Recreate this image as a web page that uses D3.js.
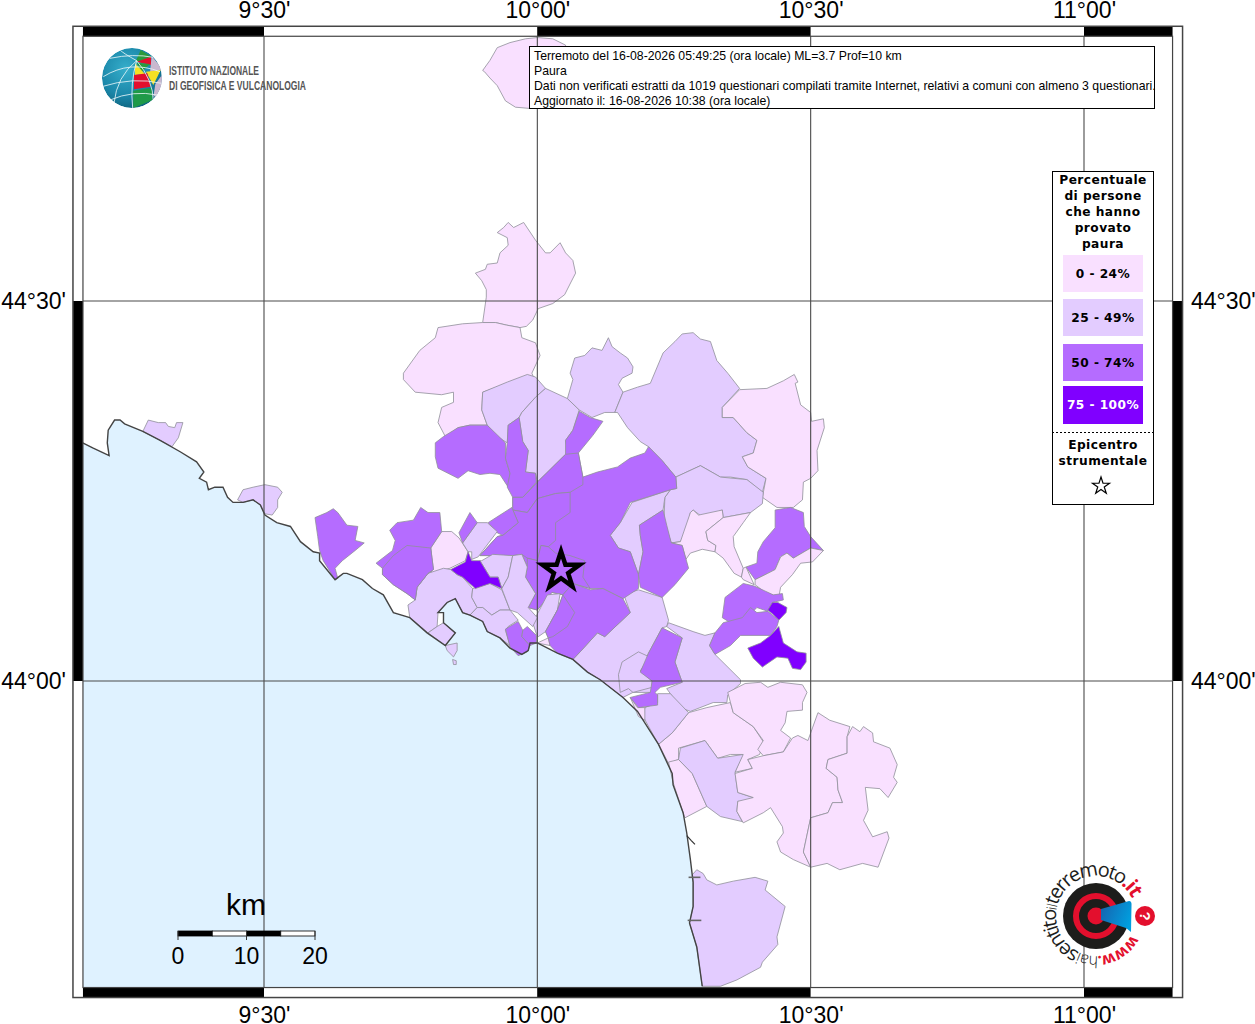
<!DOCTYPE html>
<html><head><meta charset="utf-8">
<script src="https://d3js.org/d3.v7.min.js"></script>
<style>html,body{margin:0;padding:0;background:#fff}svg{display:block}</style>
</head><body><svg id="map" width="1255" height="1024"></svg>
<script>
// Geographic values are arc-minutes east of 9°00'E and north of 44°00'N.
const lonTicks=[30,60,90,120];
const latTicks=[0,30];
const lonLabels=["9°30'","10°00'","10°30'","11°00'"];
const latLabels=["44°00'","44°30'"];
const frameLon=[10.13,129.72];
const frameLat=[-24.2,50.9];
const epicentre=[62.6,8.7];
const classLabels=["0 - 24%","25 - 49%","50 - 74%","75 - 100%"];
const classColors=["#f9e0ff","#e3ccff","#b56cff","#8000ff"];
const legendTitle=["Percentuale","di persone","che hanno","provato","paura"];
const epicentreTitle=["Epicentro","strumentale"];
const infoLines=["Terremoto del 16-08-2026 05:49:25 (ora locale) ML=3.7 Prof=10 km","Paura","Dati non verificati estratti da 1019 questionari compilati tramite Internet, relativi a comuni con almeno 3 questionari.","Aggiornato il: 16-08-2026 10:38 (ora locale)"];
const scaleKm=[0,5,10,15,20];
const coast=[10.1,18.8,11.2,18.4,13.0,17.8,12.8,18.8,12.9,19.8,13.6,20.6,14.2,20.6,14.7,20.3,16.7,19.7,18.6,19.0,20.8,18.1,22.6,17.3,23.4,16.5,22.9,16.0,23.7,15.7,23.9,15.1,24.6,15.3,25.5,15.3,26.0,14.5,26.6,14.1,27.7,14.1,28.8,14.3,29.6,13.9,30.1,13.1,31.4,12.5,32.9,12.2,34.0,11.0,35.4,10.2,36.1,10.1,36.1,9.5,37.8,8.0,38.7,8.5,39.1,8.5,40.8,8.0,41.9,7.3,43.1,6.8,44.2,5.4,46.0,5.0,47.9,3.8,49.9,2.8,51.0,3.8,49.7,4.6,49.7,5.4,49.1,5.4,50.1,6.2,51.0,6.5,51.8,5.4,52.6,5.2,54.0,4.7,54.5,3.9,55.9,3.4,57.0,2.6,58.3,2.1,59.0,2.4,59.2,3.0,60.0,3.0,62.2,2.2,63.9,1.7,65.5,0.7,66.9,0.1,69.4,-1.3,71.0,-2.4,73.3,-5.0,74.8,-7.3,74.9,-8.2,76.0,-10.4,76.4,-12.0,76.8,-14.1,77.1,-15.9,77.1,-17.8,76.7,-19.1,77.5,-21.0,78.1,-24.1];
const communeClasses=[0,0,1,1,1,1,0,1,1,1,0,0,1,0,0,0,1,1,1,1,1,0,1,2,2,2,2,2,2,2,2,0,1,2,0,0,2,3,2,3,2,2,2,0,0,0,0,1,1,1,1,1,1,1,1,2,2,1,2,3,2,2,2];
const communeRings=[
[56.8,36.2,57.4,35.8,58.5,36.2,59.8,34.8,60.9,33.8,61.4,33.8,62.5,34.6,63.1,33.8,63.9,33.2,64.2,32.2,63.7,31.5,63.0,30.5,61.7,29.8,60.1,29.4,59.5,28.5,58.8,28.0,58.1,27.9,56.6,28.1,55.4,28.3,54.0,28.3,54.4,30.3,54.4,30.9,53.9,31.6,53.2,32.2,54.3,32.5,54.5,32.9,55.6,33.0,55.9,33.8,56.8,34.4,56.7,35.0,55.6,35.4,56.3,35.8],
[49.1,27.9,51.8,28.2,54.0,28.3,55.4,28.3,56.6,28.1,58.1,27.9,58.3,27.1,59.8,26.7,60.3,25.7,59.4,24.3,59.8,23.6,56.7,23.5,54.0,22.8,53.9,21.4,54.5,20.2,52.6,20.2,51.3,20.0,49.9,19.3,49.1,20.4,49.5,21.6,50.8,22.0,50.8,22.8,49.5,22.6,46.6,22.8,45.3,23.8,45.3,24.3,47.1,26.1,48.8,27.1],
[54.0,22.8,56.7,23.6,58.9,24.2,59.8,24.0,60.9,23.1,59.8,22.4,58.3,21.2,58.0,20.8,56.8,20.2,56.7,18.8,55.6,19.3,54.5,20.2,53.9,21.4],
[59.8,22.4,60.9,23.1,63.3,22.3,64.6,21.4,63.9,19.8,63.1,19.0,63.4,18.0,60.0,15.7,59.8,16.4,58.7,16.5,59.0,18.2,58.4,18.9,58.0,20.8,58.3,21.2],
[63.3,22.3,63.9,23.8,63.6,24.3,64.1,25.5,65.2,25.7,66.0,26.3,67.1,26.1,67.8,27.1,68.2,26.4,69.1,25.9,69.9,25.5,70.5,24.8,70.4,24.3,69.3,23.9,68.9,23.4,69.4,22.8,68.5,21.2,67.4,21.2,66.0,20.8,64.6,21.4],
[68.5,21.2,69.4,22.8,71.0,23.2,72.4,23.5,73.8,25.9,75.1,26.8,75.9,27.4,77.1,27.5,77.9,27.0,79.0,26.8,79.7,25.3,80.9,24.3,82.2,23.1,80.3,21.6,80.3,20.8,81.5,20.8,83.0,19.6,84.1,19.0,83.7,18.0,82.5,17.7,83.1,16.9,85.1,16.0,84.7,14.9,83.0,15.9,81.2,16.1,80.1,16.1,77.9,17.0,75.2,16.1,73.7,17.4,72.2,18.5,71.3,18.9,69.9,20.0,68.8,21.2],
[82.2,23.0,85.2,23.1,87.0,23.7,88.2,24.2,88.6,23.6,88.3,23.5,88.9,21.8,90.0,21.2,90.1,20.5,91.4,20.7,91.5,20.0,90.7,18.2,90.8,16.6,90.0,16.0,89.2,15.7,89.1,14.3,88.1,13.7,86.3,13.7,84.7,14.5,85.1,16.0,83.1,16.9,82.5,17.7,83.7,18.0,84.1,19.0,83.0,19.6,81.5,20.8,80.3,20.8,80.3,21.6],
[75.2,16.1,77.9,17.0,80.1,16.1,83.0,15.9,84.8,14.9,84.7,14.0,83.4,13.3,80.4,12.9,80.3,13.5,78.2,12.9,77.1,13.5,76.8,13.3,76.4,11.9,75.7,11.0,74.7,10.9,73.9,12.7,74.0,14.5,74.6,15.1,75.3,15.2],
[74.6,15.1,70.4,14.1,69.1,12.5,68.0,11.5,68.9,10.5,70.2,10.2,71.1,8.4,71.6,10.2,71.3,11.5,71.2,12.3,73.8,13.5,74.0,14.5],
[63.9,1.7,64.7,2.3,66.6,3.8,67.4,3.5,70.2,5.4,69.5,6.8,71.1,7.2,73.7,6.6,74.4,4.8,74.2,4.3,73.7,4.2,72.2,2.2,71.3,0.7,72.6,0.0,72.6,-0.9,70.5,-0.9,69.4,-1.3,66.9,0.1,65.5,0.7],
[77.1,13.5,77.7,13.1,80.3,13.5,80.4,12.9,78.5,11.8,78.7,11.1,79.6,10.7,79.5,10.2,78.1,10.4,76.8,10.1,76.3,9.6,75.9,10.7,74.7,10.9,75.7,11.0,76.8,13.3],
[80.4,12.9,83.4,13.3,82.6,12.5,81.5,11.4,81.6,10.6,82.6,8.9,82.4,8.2,81.6,8.5,80.4,9.7,79.5,10.2,79.6,10.7,78.7,11.1,78.5,11.8],
[74.4,4.6,77.1,3.9,78.4,3.6,79.5,3.8,78.9,2.8,79.5,2.1,82.3,0.1,82.3,-0.2,80.9,-1.1,80.8,-1.7,79.3,-1.7,76.8,-2.4,75.7,-2.1,74.2,-0.6,75.9,-0.1,75.1,1.5,75.9,3.4,74.2,4.3],
[73.3,-5.0,74.8,-4.1,76.6,-2.5,78.6,-2.1,81.2,-1.7,81.5,-2.5,83.7,-3.6,84.8,-4.8,84.4,-5.8,83.1,-6.2,83.6,-6.9,81.7,-7.2,82.5,-5.8,81.2,-5.8,79.8,-6.1,78.4,-4.7,75.5,-5.3,75.5,-6.2,74.4,-6.5],
[74.4,-6.4,75.5,-6.2,77.0,-7.3,78.6,-9.9,76.2,-10.8,75.9,-10.2,74.9,-8.0],
[80.9,-0.9,82.8,-0.2,84.5,-0.1,85.3,-0.5,86.7,-0.1,89.1,-0.3,89.6,-0.9,89.1,-1.7,89.1,-2.3,87.4,-2.4,87.2,-3.3,86.7,-3.9,87.8,-4.5,87.0,-5.6,84.8,-5.9,84.2,-5.4,84.8,-4.7,83.7,-3.6,81.5,-2.5,81.2,-1.7],
[75.7,-5.3,78.4,-4.7,79.8,-6.1,82.6,-5.8,81.7,-7.2,82.0,-8.8,83.7,-9.2,83.6,-9.5,82.0,-9.5,81.9,-10.3,82.5,-11.1,80.1,-10.7,78.6,-9.9,77.0,-7.3,75.5,-6.2],
[77.0,-15.3,77.5,-14.9,78.2,-15.2,78.6,-15.7,79.7,-16.1,81.5,-15.8,83.9,-15.5,85.3,-15.8,85.0,-16.5,87.2,-17.8,86.3,-20.2,86.4,-20.8,84.7,-22.2,84.5,-22.6,81.9,-23.6,80.1,-24.1,78.1,-24.1,77.5,-21.0,76.7,-19.1,77.1,-17.8,77.1,-15.9],
[16.7,19.7,17.3,20.6,18.4,20.4,19.2,20.4,19.5,20.1,20.2,20.0,20.4,20.4,21.1,20.4,20.6,19.2,19.9,18.5,18.6,19.0],
[27.1,14.3,27.7,15.1,28.8,15.3,30.1,15.5,31.5,15.3,32.0,14.9,31.5,14.3,31.5,13.7,30.9,13.1,30.1,13.2,29.6,13.9,28.8,14.3,27.7,14.1],
[73.2,-1.0,74.6,-1.0,76.6,-2.5,74.8,-4.1,73.3,-5.0,71.6,-2.8,71.8,-2.1,73.2,-1.7],
[70.2,-1.3,71.0,-2.1,71.8,-2.1,71.8,-3.1,71.1,-2.8],
[68.9,0.5,69.3,1.5,71.1,2.3,72.3,1.9,71.3,0.8,72.6,0.0,72.6,-0.5,70.5,-0.9,70.0,-0.6,69.1,-0.9],
[58.4,14.5,60.0,15.7,63.1,17.9,63.1,19.0,63.9,19.8,64.6,21.3,65.8,20.8,67.2,20.5,66.1,19.4,64.5,18.0,65.0,16.1,66.6,16.5,68.8,16.9,70.2,17.6,71.8,18.0,72.2,18.5,73.7,17.4,75.2,16.1,75.3,15.2,74.6,15.1,70.2,14.1,69.1,12.5,68.0,11.5,68.9,10.5,70.2,10.2,71.1,8.4,71.1,7.3,69.4,6.5,67.2,7.3,65.8,7.3,63.9,7.7,62.8,6.8,61.6,7.0,60.0,5.6,59.0,5.8,59.8,6.9,58.7,8.2,58.9,9.0,58.3,10.0,57.3,9.9,53.7,9.9,55.6,11.4,56.2,11.5,57.9,12.5,57.3,13.5,57.3,14.5],
[48.8,18.8,49.7,19.3,51.3,20.0,52.6,20.2,54.5,20.2,56.5,18.8,56.5,17.6,57.0,16.4,56.8,15.3,55.9,16.3,54.8,16.4,53.7,16.3,52.4,16.6,51.3,16.0,50.2,16.4,49.1,16.8,48.8,17.7],
[56.8,20.2,58.0,20.8,58.4,18.9,59.0,18.2,58.7,16.5,59.8,16.4,59.9,15.7,58.4,14.5,57.3,14.5,56.7,15.3,57.0,16.4,56.5,17.6,56.7,18.8],
[57.3,14.5,58.4,14.5,60.0,15.7,63.1,17.9,64.5,18.0,65.0,16.1,65.0,15.5,63.6,14.9,62.0,14.8,60.0,14.4,58.9,13.3,57.3,13.5],
[57.3,13.5,58.9,13.3,60.0,14.4,62.0,14.8,63.6,14.9,63.6,13.3,62.0,12.5,62.0,11.1,61.2,10.6,60.4,10.7,60.0,9.5,58.9,9.7,58.3,10.0,57.3,9.9,53.7,9.9,55.6,11.4,56.2,11.5,57.9,12.5],
[54.6,12.5,55.9,13.1,57.2,13.7,57.9,12.5,56.2,11.5,55.6,11.7],
[63.6,9.9,65.2,9.5,65.0,8.2,65.8,7.3,63.9,7.7,62.8,6.8,61.6,7.0,60.0,5.6,59.0,5.8,59.8,6.9,58.7,8.2,58.9,9.0,58.9,9.7,60.0,9.5,60.4,10.7,61.2,10.6,62.0,10.1],
[73.8,13.5,74.2,12.3,74.7,10.9,75.9,10.7,76.6,8.9,75.1,7.6,73.7,6.6,71.3,7.4,71.1,8.4,71.6,10.2,71.3,11.5,71.2,12.3],
[60.0,3.0,61.2,3.4,61.4,2.8],
[59.5,4.6,61.1,6.8,62.5,6.9,62.2,5.6,60.9,3.9,60.1,3.5,59.9,3.7],
[86.1,13.5,87.8,13.7,89.2,13.3,89.3,12.2,90.0,11.4,91.4,10.3,90.0,10.5,88.1,9.7,87.4,10.1,86.7,9.8,86.1,8.8,85.3,8.5,83.9,8.0,82.9,9.0,84.1,9.3,84.2,10.2,84.8,11.0,86.1,12.1],
[83.9,8.0,85.3,8.5,86.1,8.8,86.7,9.8,87.4,10.1,88.1,9.7,90.0,10.5,91.4,10.3,90.2,9.4,88.9,9.3,88.0,8.4,86.7,7.4,86.5,6.6,85.0,7.0,83.9,7.6],
[82.4,8.2,82.6,8.9,82.9,9.0,83.8,7.6,82.6,8.0],
[82.6,7.7,83.8,7.5,85.9,6.8,86.9,6.9,87.0,6.4,85.8,6.2,85.3,5.5,84.1,5.8,83.0,5.0,81.2,4.6,80.3,5.0,80.6,6.6],
[85.3,5.6,85.8,6.2,86.4,6.2,87.4,5.8,87.3,5.4,86.5,4.8,85.8,5.3],
[78.9,2.8,79.5,3.8,80.4,4.6,82.5,5.0,83.4,5.8,84.1,5.4,85.3,5.5,86.5,4.8,86.3,4.3,85.6,3.6,82.3,3.6,81.2,2.8,79.5,2.1],
[86.5,4.3,87.0,3.0,88.5,2.3,89.5,2.2,89.5,1.5,88.9,0.9,88.0,1.0,87.5,1.8,86.3,1.9,84.7,1.1,83.7,1.8,83.1,2.6,84.5,3.0,85.6,3.6],
[73.7,4.2,75.9,3.4,75.1,1.5,75.9,-0.1,73.5,-0.5,72.9,-0.9,73.2,-1.1,73.2,-1.9,71.1,-2.1,70.2,-1.3,72.4,-0.9,72.6,0.0,71.3,0.7,72.2,2.2],
[60.9,3.9,62.2,5.6,62.8,6.8,63.9,7.7,65.8,7.2,67.2,7.3,69.4,6.5,70.2,5.4,67.4,3.5,66.6,3.8,64.7,2.3,63.9,1.7,62.2,2.2,61.4,2.8,61.2,3.4],
[60.9,3.9,62.2,5.6,62.8,6.8,64.1,5.4,63.3,4.3,61.7,3.5,61.2,3.4],
[83.1,-6.2,84.8,-5.9,87.0,-5.6,88.0,-4.5,88.6,-4.3,89.7,-4.7,90.2,-3.7,90.8,-2.5,92.1,-3.1,94.3,-3.6,94.0,-4.4,94.0,-5.7,91.9,-6.2,91.7,-6.9,92.9,-7.6,93.0,-8.6,93.5,-9.6,92.4,-9.6,91.9,-10.4,90.0,-10.8,89.2,-13.5,90.0,-14.7,88.1,-14.1,86.7,-13.5,86.3,-12.7,87.0,-12.0,86.9,-11.5,85.6,-10.0,84.8,-10.4,82.6,-11.2,81.9,-10.3,82.0,-9.5,83.7,-9.2,82.0,-8.8,81.7,-7.3,83.1,-7.0,83.6,-6.9],
[94.6,-3.6,95.4,-4.0,95.8,-3.6,96.8,-4.1,96.9,-4.8,98.7,-5.3,99.5,-6.6,99.1,-7.6,99.5,-8.0,98.5,-9.2,97.6,-8.5,96.0,-8.4,96.3,-10.2,95.8,-11.0,96.8,-12.3,98.4,-11.9,98.6,-12.4,97.4,-14.7,95.7,-14.4,93.2,-14.9,91.8,-14.4,90.0,-14.7,89.2,-13.5,90.0,-10.8,91.9,-10.4,92.4,-9.6,93.5,-9.6,93.0,-8.6,92.9,-7.6,91.7,-6.9,91.9,-6.2,94.0,-5.7,94.0,-4.4],
[54.0,48.2,54.8,49.0,55.6,50.0,57.0,50.4,58.7,50.7,60.0,50.8,61.7,50.7,63.1,50.2,63.1,49.0,59.2,45.2,57.6,45.3,56.5,45.8,55.6,47.0,54.8,47.6,54.2,48.1],
[48.3,10.5,49.5,11.8,50.6,11.8,51.4,11.3,52.4,10.2,52.1,9.5,50.4,8.9,48.4,8.5],
[46.6,6.4,46.8,7.4,48.0,8.5,49.7,8.9,50.5,8.8,51.2,8.4,51.8,8.2,52.9,7.3,52.8,6.6,53.4,5.8,52.6,5.2,51.8,5.4,51.0,6.5,50.1,6.2,49.1,5.4,49.0,4.3,48.0,3.8,46.0,5.0,45.8,6.0],
[48.0,3.8,49.0,4.3,49.7,4.6,51.0,3.8,49.9,2.8],
[49.9,2.8,51.2,3.0,51.2,2.4,50.8,1.9,50.1,2.4],
[50.7,1.7,51.1,1.6,51.1,1.3,50.8,1.3],
[52.9,7.3,54.8,7.7,56.1,7.2,57.0,5.6,55.9,5.6,55.0,5.2,54.0,5.8,53.4,5.8,52.8,6.6],
[53.7,9.5,54.8,8.2,55.7,8.2,56.1,7.3,56.8,8.2,57.3,9.9,55.1,10.0,53.9,9.5],
[57.3,9.9,58.3,10.0,58.9,9.0,58.7,8.2,59.8,6.9,59.0,5.8,60.0,5.0,59.5,4.3,57.8,5.4,57.0,5.6,56.1,7.3,56.8,8.2],
[52.6,5.2,53.4,5.8,54.0,5.8,55.0,5.2,55.9,5.6,57.0,5.6,57.9,4.8,56.8,4.3,56.5,4.0,57.0,2.8,55.9,3.4,54.5,3.9,54.0,4.7],
[56.5,4.1,57.9,4.7,58.4,4.0,58.3,3.5,59.2,2.8,58.9,2.3,57.9,2.0,57.0,2.7],
[58.4,4.0,58.9,4.3,59.9,3.6,59.9,3.0,59.2,2.8,58.3,3.5],
[51.8,10.9,53.4,12.5,54.5,12.5,55.6,11.8,53.5,9.8,52.8,9.6,52.8,10.2,52.4,10.2],
[51.4,11.7,52.6,13.3,53.4,12.5,51.8,10.9],
[50.5,8.8,52.1,9.4,52.4,10.2,52.8,9.5,53.7,9.5,54.8,8.2,55.7,8.2,56.1,7.3,54.8,7.7,53.2,7.3,51.8,8.2,51.2,8.4],
[35.6,12.9,36.9,13.3,37.6,13.6,38.1,13.3,39.1,12.3,40.3,12.2,40.0,11.1,41.0,10.9,40.0,10.3,38.6,9.5,37.8,8.9,38.1,8.1,37.8,8.0,36.5,9.5,36.1,10.3,35.9,11.4],
[42.3,9.3,44.1,10.3,44.4,11.1,43.8,11.9,44.6,12.5,46.4,12.7,47.2,13.7,48.0,13.3,49.3,13.3,49.5,11.8,48.3,10.5,48.6,8.8,48.0,8.5,46.8,7.4,46.6,6.4,45.7,6.9,44.2,7.6,43.0,8.4,43.0,8.9],
[43.0,8.9,44.2,9.9,45.7,10.7,48.3,10.5,48.6,8.8,48.0,8.5,46.8,7.4,46.6,6.4,45.7,6.9,44.2,7.6,43.0,8.4]
];

const x=d3.scaleLinear().domain([30,120]).range([264,1084]);
const y=d3.scaleLinear().domain([0,30]).range([681,301]);
const svg=d3.select("#map");
const FF="'Liberation Sans',Arial,sans-serif", DJ="'DejaVu Sans',sans-serif";
const pairs=a=>d3.range(0,a.length,2).map(i=>[a[i],a[i+1]]);
const line=d3.line().x(d=>x(d[0])).y(d=>y(d[1]));
const [L,R]=frameLon.map(x), [B,T]=frameLat.map(y);

const seaPts=pairs(coast).concat([[coast[coast.length-2],frameLat[0]],[frameLon[0],frameLat[0]]]);
svg.append("path").attr("d",line(seaPts)+"Z").attr("fill","#dff2ff");
svg.append("g").selectAll("path").data(communeRings).join("path")
  .attr("d",d=>line(pairs(d))+"Z")
  .attr("fill",(d,i)=>classColors[communeClasses[i]])
  .attr("stroke","#8f8f99").attr("stroke-width",0.8).attr("stroke-linejoin","round");
svg.append("path").attr("d",line(pairs(coast))).attr("fill","none").attr("stroke","#444").attr("stroke-width",1.4);
const piers=[[[76.6,-15.5],[77.9,-15.5]],[[76.5,-18.9],[78.0,-18.9]]];
svg.append("g").selectAll("path").data(piers).join("path").attr("d",line).attr("stroke","#666").attr("stroke-width",1.6);
svg.append("path").attr("d",line([[76.4,-12.2],[76.9,-12.6],[77.3,-12.9]])).attr("stroke","#333").attr("fill","none").attr("stroke-width",1.2);
const gridColor="#4a4a4a";
svg.append("g").selectAll("line").data(lonTicks).join("line")
  .attr("x1",d=>x(d)).attr("x2",d=>x(d)).attr("y1",T-10).attr("y2",B+10).attr("stroke",gridColor).attr("stroke-width",1.1);
svg.append("g").selectAll("line").data(latTicks).join("line")
  .attr("y1",d=>y(d)).attr("y2",d=>y(d)).attr("x1",L-10).attr("x2",R+10).attr("stroke",gridColor).attr("stroke-width",1.1);
const bandsX=[frameLon[0],30,60,90,120,frameLon[1]];
const bandsY=[frameLat[0],0,30,frameLat[1]];
d3.pairs(bandsX).forEach((b,i)=>{[T-10,B].forEach(yy=>svg.append("rect").attr("x",x(b[0])).attr("y",yy).attr("width",x(b[1])-x(b[0])).attr("height",10).attr("fill",i%2?"#fff":"#000"));});
d3.pairs(bandsY).forEach((b,i)=>{[L-10,R].forEach(xx=>svg.append("rect").attr("x",xx).attr("y",y(b[1])).attr("width",10).attr("height",y(b[0])-y(b[1])).attr("fill",i%2?"#000":"#fff"));});
const fr=svg.append("g").attr("fill","none").attr("stroke","#444").attr("stroke-width",1.2);
fr.append("rect").attr("x",L-10).attr("y",T-10).attr("width",R-L+20).attr("height",B-T+20).attr("stroke-width",1.5);
fr.append("rect").attr("x",L).attr("y",T).attr("width",R-L).attr("height",B-T);
const fmtLon=d=>lonLabels[lonTicks.indexOf(d)], fmtLat=d=>latLabels[latTicks.indexOf(d)];
function axisStyle(g){g.select(".domain").remove();g.selectAll(".tick line").remove();g.selectAll("text").attr("font-family",FF).attr("font-size",23).attr("fill","#000");}
svg.append("g").attr("transform","translate(0,20.5)").call(d3.axisTop(x).tickValues(lonTicks).tickFormat(fmtLon).tickSize(0)).call(axisStyle);
svg.append("g").attr("transform","translate(0,1004)").call(d3.axisBottom(x).tickValues(lonTicks).tickFormat(fmtLon).tickSize(0)).call(axisStyle);
svg.append("g").attr("transform","translate(69,0)").call(d3.axisLeft(y).tickValues(latTicks).tickFormat(fmtLat).tickSize(0)).call(axisStyle);
svg.append("g").attr("transform","translate(1188,0)").call(d3.axisRight(y).tickValues(latTicks).tickFormat(fmtLat).tickSize(0)).call(axisStyle);

svg.append("path").attr("d",d3.symbol(d3.symbolStar,430)).attr("transform",`translate(${x(epicentre[0])},${y(epicentre[1])})`)
  .attr("fill","none").attr("stroke","#000").attr("stroke-width",4.5).attr("stroke-linejoin","miter");

svg.append("rect").attr("x",529.5).attr("y",46.5).attr("width",625).attr("height",62).attr("fill","#fff").attr("stroke","#000");
svg.append("g").selectAll("text").data(infoLines).join("text").attr("x",534).attr("y",(d,i)=>60+i*15)
  .attr("font-family",FF).attr("font-size",12.25).attr("fill","#000").text(d=>d);

const lg=svg.append("g");
lg.append("rect").attr("x",1052.5).attr("y",171.5).attr("width",101).attr("height",333).attr("fill","#fff").attr("stroke","#000");
const txt=(s,xx,yy,fill)=>lg.append("text").attr("x",xx).attr("y",yy).attr("text-anchor","middle").attr("font-family",DJ).attr("font-weight","bold").attr("font-size",12.2).attr("letter-spacing",0.45).attr("fill",fill||"#000").text(s);
legendTitle.forEach((s,i)=>txt(s,1103,184+i*16));
const swatchY=[255,299,344,386], swatchH=[37,37,37,38];
classLabels.forEach((s,i)=>{
  lg.append("rect").attr("x",1063).attr("y",swatchY[i]).attr("width",80).attr("height",swatchH[i]).attr("fill",classColors[i]);
  txt(s,1103,swatchY[i]+23,i==3?"#fff":"#000");
});
lg.append("line").attr("x1",1052).attr("x2",1154).attr("y1",432.5).attr("y2",432.5).attr("stroke","#000").attr("stroke-dasharray","2,2");
epicentreTitle.forEach((s,i)=>txt(s,1103,449+i*16));
lg.append("path").attr("d",d3.symbol(d3.symbolStar,90)).attr("transform","translate(1101,486)").attr("fill","#fff").attr("stroke","#000").attr("stroke-width",1.2);

const km=d3.scaleLinear().domain([0,20]).range([178,315]);
const sb=svg.append("g");
d3.pairs(scaleKm).forEach((b,i)=>sb.append("rect").attr("x",km(b[0])).attr("y",931).attr("width",km(b[1])-km(b[0])).attr("height",5).attr("fill",i%2?"#fff":"#000").attr("stroke","#000").attr("stroke-width",0.8));
[0,10,20].forEach(v=>{
  sb.append("line").attr("x1",km(v)).attr("x2",km(v)).attr("y1",931).attr("y2",940).attr("stroke","#333").attr("stroke-width",1);
  sb.append("text").attr("x",km(v)).attr("y",964).attr("text-anchor","middle").attr("font-family",FF).attr("font-size",23).text(v);
});
sb.append("text").attr("x",246).attr("y",915).attr("text-anchor","middle").attr("font-family",FF).attr("font-size",30).text("km");

const defs=svg.append("defs");
const gr=defs.append("radialGradient").attr("id","globe").attr("cx","40%").attr("cy","35%").attr("r","75%");
gr.append("stop").attr("offset","0%").attr("stop-color","#36aecb");
gr.append("stop").attr("offset","60%").attr("stop-color","#1a86a8");
gr.append("stop").attr("offset","100%").attr("stop-color","#0d5a73");
defs.append("clipPath").attr("id","gc").append("circle").attr("cx",186).attr("cy",174).attr("r",90);
const lo=svg.append("g").attr("transform","translate(70,20) scale(0.3333)");
const gl=lo.append("g").attr("clip-path","url(#gc)");
gl.append("circle").attr("cx",186).attr("cy",174).attr("r",90).attr("fill","url(#globe)");
const wedges=[["#2b9a3c","M198,122 L212,90 L245,110 L205,125Z"],["#e30f2d","M200,125 L243,110 L243,135Z"],["#c9b8cf","M245,108 L280,150 L240,158Z"],["#2b9a3c","M200,128 L240,132 L215,155Z"],["#f4e024","M195,130 L225,162 L195,165Z"],["#f4e024","M228,155 L272,150 L250,195Z"],["#e30f2d","M192,165 L232,160 L242,200 L192,208Z"],["#c9b8cf","M256,192 L280,160 L280,220 L250,230Z"],["#1f9a48","M190,212 L245,203 L248,240 L190,264Z"]];
gl.selectAll("path.w").data(wedges).join("path").attr("class","w").attr("d",d=>d[1]).attr("fill",d=>d[0]);
const wl=["M120,115 Q190,100 250,112","M100,170 Q180,120 270,155","M95,200 Q190,170 275,190","M120,240 Q190,210 262,225","M200,122 Q140,170 132,250","M200,122 Q180,190 188,264","M200,122 Q250,180 250,245","M200,122 Q160,100 150,90"];
gl.selectAll("path.l").data(wl).join("path").attr("class","l").attr("d",d=>d).attr("fill","none").attr("stroke","#e8f5f8").attr("stroke-width",2.5);
const narrow="'Liberation Sans Narrow','Liberation Sans',sans-serif";
svg.append("text").attr("x",169).attr("y",75).attr("font-family",narrow).attr("font-weight","bold").attr("font-size",13.5).attr("fill","#555").attr("textLength",90).attr("lengthAdjust","spacingAndGlyphs").text("ISTITUTO NAZIONALE");
svg.append("text").attr("x",169).attr("y",90).attr("font-family",narrow).attr("font-weight","bold").attr("font-size",13.5).attr("fill","#555").attr("textLength",137).attr("lengthAdjust","spacingAndGlyphs").text("DI GEOFISICA E VULCANOLOGIA");

const hs=svg.append("g").attr("transform","translate(1096,916)");
const bg=defs.append("linearGradient").attr("id","cone").attr("x1","0").attr("x2","1").attr("y1","0.2").attr("y2","0.6");
bg.append("stop").attr("offset","0").attr("stop-color","#1565b0");
bg.append("stop").attr("offset","1").attr("stop-color","#00a0e0");
hs.append("circle").attr("r",33).attr("fill","#1d1d1b");
hs.append("circle").attr("r",20).attr("fill","none").attr("stroke","#e30f2d").attr("stroke-width",6);
hs.append("circle").attr("r",8.5).attr("fill","#e30f2d");
hs.append("path").attr("d","M5,-7 L33,-15 Q36,-15 35.5,-10 L35,16 L30,12 L5,4Z").attr("fill","url(#cone)");
hs.append("circle").attr("cx",49).attr("cy",0).attr("r",10).attr("fill","#e30f2d");
hs.append("text").attr("transform","translate(49,0) rotate(90)").attr("text-anchor","middle").attr("dy","0.35em").attr("font-family",FF).attr("font-weight","bold").attr("font-size",15).attr("fill","#fff").text("?");
const rr=40;
const startA=118*Math.PI/180;
const arc=d3.path();
arc.moveTo(rr*Math.sin(startA),-rr*Math.cos(startA));
arc.arc(0,0,rr,startA-Math.PI/2,startA-Math.PI/2+2*Math.PI*0.985);
defs.append("path").attr("id","ring").attr("d",arc.toString());
const tp=hs.append("text").attr("font-family","'Open Sans',sans-serif").attr("font-size",20).attr("letter-spacing",-1.9).attr("fill","#1d1d1b").append("textPath").attr("href","#ring");
tp.append("tspan").attr("fill","#e30f2d").attr("font-weight","bold").attr("letter-spacing",-1.2).attr("font-size",16).text("www.");
tp.append("tspan").attr("font-size",16).attr("font-weight","300").attr("letter-spacing",-0.8).text("hai");
tp.append("tspan").text("sentito");
tp.append("tspan").attr("font-size",14).attr("font-weight","300").attr("letter-spacing",-0.6).text("il");
tp.append("tspan").text("terremoto");
tp.append("tspan").attr("fill","#e30f2d").attr("font-weight","bold").attr("letter-spacing",-1).text(".it");
</script></body></html>
